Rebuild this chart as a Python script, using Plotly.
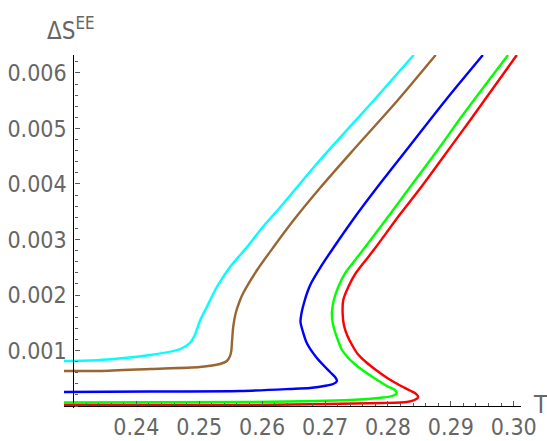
import plotly.graph_objects as go

# ---- data ----
cyan_T = [0.2285, 0.2342, 0.2422, 0.2470, 0.2485, 0.2493, 0.2501, 0.2512, 0.2528, 0.2549,
          0.2576, 0.2601, 0.2629, 0.2692, 0.2778, 0.2841]
cyan_S = [0.000811, 0.000829, 0.000919, 0.001027, 0.001135, 0.001279, 0.001532, 0.001784,
          0.002144, 0.002505, 0.002865, 0.003225, 0.003586, 0.004432, 0.005514, 0.006324]

brown_T = [0.2285, 0.2342, 0.2422, 0.2501, 0.2533, 0.2544, 0.2549, 0.2551, 0.2552, 0.2554,
           0.2558, 0.2565, 0.2570, 0.2592, 0.2617, 0.2649, 0.2692, 0.2745, 0.2816, 0.2876]
brown_S = [0.000631, 0.000631, 0.000667, 0.000703, 0.000757, 0.000811, 0.000901, 0.000991,
           0.001135, 0.001423, 0.001676, 0.001910, 0.002036, 0.002450, 0.002847, 0.003333,
           0.003928, 0.004613, 0.005514, 0.006324]

blue_T = [0.2285, 0.2422, 0.2565, 0.2644, 0.2676, 0.2703, 0.2713, 0.2719, 0.2716, 0.2708,
          0.2687, 0.2671, 0.2665, 0.2661, 0.2663, 0.2667, 0.2672, 0.2678, 0.2692, 0.2711,
          0.2751, 0.2787, 0.2827, 0.2892, 0.2951]
blue_S = [0.000252, 0.000261, 0.000270, 0.000306, 0.000324, 0.000369, 0.000396, 0.000450,
          0.000523, 0.000613, 0.000865, 0.001135, 0.001333, 0.001514, 0.001694, 0.001874,
          0.002054, 0.002216, 0.002486, 0.002811, 0.003459, 0.004000, 0.004577, 0.005514,
          0.006324]

green_T = [0.2285, 0.2581, 0.2740, 0.2792, 0.2807, 0.2814, 0.2810, 0.2800, 0.2783, 0.2765,
           0.2749, 0.2737, 0.2727, 0.2721, 0.2716, 0.2712, 0.2711, 0.2714, 0.2721, 0.2732,
           0.2748, 0.2764, 0.2800, 0.2840, 0.2878, 0.2919, 0.2991]
green_S = [0.000063, 0.000072, 0.000108, 0.000153, 0.000180, 0.000234, 0.000297, 0.000351,
           0.000468, 0.000604, 0.000739, 0.000865, 0.001009, 0.001171, 0.001333, 0.001514,
           0.001694, 0.001910, 0.002144, 0.002396, 0.002631, 0.002865, 0.003405, 0.004018,
           0.004595, 0.005243, 0.006324]

red_T = [0.2285, 0.2581, 0.2792, 0.2830, 0.2842, 0.2848, 0.2843, 0.2835, 0.2818, 0.2799,
         0.2781, 0.2765, 0.2752, 0.2743, 0.2735, 0.2730, 0.2728, 0.2729, 0.2737, 0.2748,
         0.2765, 0.2781, 0.2816, 0.2853, 0.2888, 0.2931, 0.3005]
red_S = [0.000018, 0.000018, 0.000054, 0.000072, 0.000108, 0.000162, 0.000234, 0.000279,
         0.000378, 0.000505, 0.000649, 0.000793, 0.000937, 0.001099, 0.001279, 0.001459,
         0.001676, 0.001910, 0.002144, 0.002378, 0.002631, 0.002865, 0.003405, 0.003946,
         0.004486, 0.005153, 0.006324]

x_ticks = [0.24, 0.25, 0.26, 0.27, 0.28, 0.29, 0.30]
x_ticklabels = ["0.24", "0.25", "0.26", "0.27", "0.28", "0.29", "0.30"]
y_ticks = [0.001, 0.002, 0.003, 0.004, 0.005, 0.006]
y_ticklabels = ["0.001", "0.002", "0.003", "0.004", "0.005", "0.006"]

series = [
    (cyan_T, cyan_S, "#00FFFF"),
    (brown_T, brown_S, "rgb(153,102,51)"),
    (blue_T, blue_S, "#0000FF"),
    (green_T, green_S, "#00FF00"),
    (red_T, red_S, "#FF0000"),
]

X_RANGE = [0.2285, 0.30116]
Y_RANGE = [-0.000036, 0.006324]
X_ORIGIN = 0.23
Y_ORIGIN = 0.0

FONT = "Liberation Sans Narrow, DejaVu Sans Condensed, Roboto Condensed, Liberation Sans, sans-serif"
GRAY = "rgb(102,102,102)"

fig = go.Figure()
for t, s, c in series:
    fig.add_trace(go.Scatter(x=t, y=s, mode="lines",
                             line=dict(color=c, width=2.4, shape="spline", smoothing=0.7),
                             showlegend=False, hoverinfo="skip"))

ypos = (X_ORIGIN - X_RANGE[0]) / (X_RANGE[1] - X_RANGE[0])
xpos = (Y_ORIGIN - Y_RANGE[0]) / (Y_RANGE[1] - Y_RANGE[0])

fig.update_layout(
    width=547, height=441,
    margin=dict(l=64, r=26, t=55, b=33, autoexpand=False),
    paper_bgcolor="white", plot_bgcolor="white",
    xaxis=dict(range=X_RANGE, anchor="free", position=xpos, automargin=False,
               showgrid=False, zeroline=False, showline=True, linecolor="black", linewidth=1.3,
               tickvals=x_ticks, ticktext=x_ticklabels, ticks="inside", ticklen=5,
               tickcolor="rgb(90,90,90)", tickwidth=1,
               minor=dict(ticks="inside", ticklen=3, dtick=0.002, tick0=0.23,
                          tickcolor="rgb(90,90,90)", showgrid=False),
               tickfont=dict(family=FONT, size=23, color=GRAY), ticklabelstandoff=0),
    yaxis=dict(range=Y_RANGE, anchor="free", position=ypos, automargin=False,
               showgrid=False, zeroline=False, showline=True, linecolor="black", linewidth=1.3,
               tickvals=y_ticks, ticktext=y_ticklabels, ticks="inside", ticklen=5,
               tickcolor="rgb(90,90,90)", tickwidth=1,
               minor=dict(ticks="inside", ticklen=3, dtick=0.0002, tick0=0,
                          tickcolor="rgb(90,90,90)", showgrid=False),
               tickfont=dict(family=FONT, size=23, color=GRAY), ticklabelstandoff=2),
    annotations=[
        dict(text="T", xref="paper", yref="paper", x=1.0, y=0.009, xanchor="left",
             yanchor="middle", xshift=10, showarrow=False,
             font=dict(family=FONT, size=25, color=GRAY)),
        dict(text="ΔS<sup>EE</sup>", xref="paper", yref="paper", x=ypos, y=1.0,
             xanchor="center", yanchor="bottom", xshift=-2, yshift=8, showarrow=False,
             font=dict(family=FONT, size=24, color=GRAY)),
    ],
)

fig.write_html("out.html", config={"displayModeBar": False},
               post_script="document.body.style.margin='0px';document.body.style.overflow='hidden';")
